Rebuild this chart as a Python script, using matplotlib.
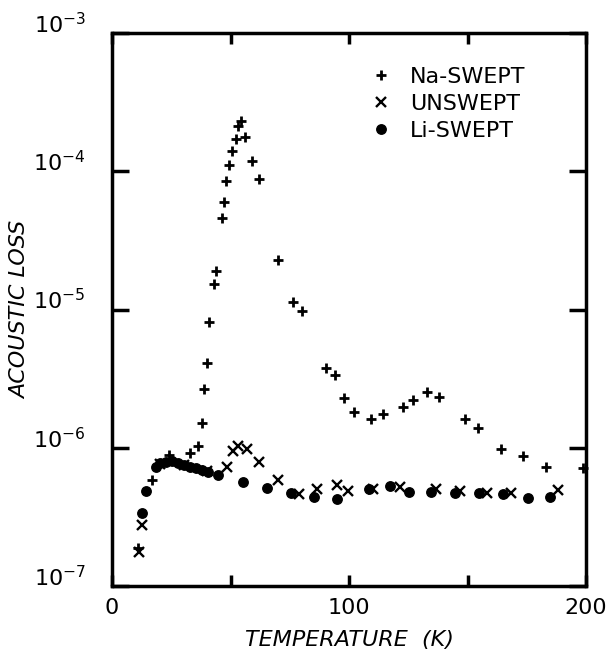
import matplotlib
matplotlib.use("Agg")
import matplotlib.pyplot as plt
from matplotlib.ticker import FixedLocator, NullLocator, FixedFormatter

plt.rcParams['font.family'] = ['DejaVu Sans']

# Na-SWEPT (+)
na_T = [11.0, 16.9, 24.1, 32.9, 36.3, 38.0, 38.8, 40.1, 40.9, 43.0, 43.9, 46.4, 47.3,
        48.1, 49.4, 50.6, 52.3, 53.2, 54.4, 56.1, 59.1, 62.0, 70.0, 76.4, 80.2, 90.3,
        94.1, 97.9, 102.1, 109.3, 114.3, 122.8, 127.0, 132.9, 138.0, 148.9, 154.4,
        164.1, 173.4, 183.1, 198.7]
na_L = [1.88e-7, 5.85e-7, 8.87e-7, 9.16e-7, 1.03e-6, 1.51e-6, 2.66e-6, 4.10e-6, 8.12e-6,
        1.53e-5, 1.90e-5, 4.59e-5, 5.99e-5, 8.50e-5, 1.11e-4, 1.40e-4, 1.71e-4, 2.12e-4,
        2.31e-4, 1.77e-4, 1.19e-4, 8.79e-5, 2.28e-5, 1.13e-5, 9.75e-6, 3.77e-6, 3.36e-6,
        2.29e-6, 1.81e-6, 1.61e-6, 1.75e-6, 1.97e-6, 2.22e-6, 2.53e-6, 2.33e-6, 1.61e-6,
        1.39e-6, 9.80e-7, 8.71e-7, 7.26e-7, 7.14e-7]

# UNSWEPT (x)
un_T = [11.4, 12.7, 20.3, 30.4, 40.1, 48.5, 51.1, 53.2, 57.0, 62.0, 70.0, 78.9, 86.5,
        94.9, 99.6, 110.1, 121.5, 136.7, 146.8, 158.2, 168.4, 188.2]
un_L = [1.76e-7, 2.76e-7, 7.6e-7, 7.5e-7, 6.79e-7, 7.26e-7, 9.48e-7, 1.03e-6, 9.80e-7,
        7.89e-7, 5.85e-7, 4.63e-7, 5.03e-7, 5.38e-7, 4.86e-7, 5.03e-7, 5.20e-7, 5.03e-7,
        4.86e-7, 4.71e-7, 4.71e-7, 4.94e-7]

# Li-SWEPT (dots)
li_T = [12.7, 14.3, 18.6, 20.3, 22.8, 25.3, 27.8, 30.4, 32.9, 35.4, 38.0, 40.5, 44.7,
        55.3, 65.4, 75.5, 85.2, 94.9, 108.4, 117.3, 125.3, 134.6, 144.7, 154.9, 165.0,
        175.5, 184.8]
li_L = [3.37e-7, 4.86e-7, 7.26e-7, 7.76e-7, 7.89e-7, 8.02e-7, 7.76e-7, 7.50e-7, 7.26e-7,
        7.14e-7, 6.91e-7, 6.68e-7, 6.35e-7, 5.65e-7, 5.11e-7, 4.71e-7, 4.40e-7, 4.26e-7,
        5.03e-7, 5.29e-7, 4.79e-7, 4.79e-7, 4.71e-7, 4.71e-7, 4.63e-7, 4.33e-7, 4.40e-7]

x_ticks = [0, 50, 100, 150, 200]
x_labels = ['0', '', '100', '', '200']
y_ticks = [1e-7, 1e-6, 1e-5, 1e-4, 1e-3]
y_labels = [r'$10^{-7}$', r'$10^{-6}$', r'$10^{-5}$', r'$10^{-4}$', r'$10^{-3}$']

fig = plt.figure(figsize=(6.07, 6.61), dpi=100)
ax = fig.add_axes([112/607, 1-586/661, (586-112)/607, (586-33)/661])

ax.plot(na_T, na_L, linestyle='none', marker='+', ms=7.5, mew=2.0, color='black',
        label='Na-SWEPT', clip_on=False, zorder=3)
ax.plot(un_T, un_L, linestyle='none', marker='x', ms=6.5, mew=1.7, color='black',
        label='UNSWEPT', zorder=3)
ax.plot(li_T, li_L, linestyle='none', marker='o', ms=6.8, color='black',
        label='Li-SWEPT', zorder=3)

ax.set_yscale('log')
ax.set_xlim(0, 200)
ax.set_ylim(1e-7, 1e-3)
ax.xaxis.set_major_locator(FixedLocator(x_ticks))
ax.xaxis.set_major_formatter(FixedFormatter(x_labels))
ax.yaxis.set_major_locator(FixedLocator(y_ticks))
ax.yaxis.set_major_formatter(FixedFormatter(y_labels))
ax.yaxis.set_minor_locator(NullLocator())
ax.xaxis.set_minor_locator(NullLocator())

for s in ax.spines.values():
    s.set_linewidth(2.5)
ax.tick_params(axis='x', which='major', direction='in', length=8, width=2.5,
               top=True, bottom=True, labelsize=16, pad=9)
ax.tick_params(axis='y', which='major', direction='in', length=12, width=2.5,
               left=True, right=True, labelsize=16, pad=19)
for lbl in ax.get_yticklabels():
    lbl.set_verticalalignment('baseline')

ax.set_xlabel('TEMPERATURE  (K)', fontsize=16, style='italic', labelpad=8)
ax.set_ylabel('ACOUSTIC LOSS', fontsize=16, style='italic')
ax.yaxis.set_label_coords(-0.172, 0.5)

leg = ax.legend(loc='upper left', bbox_to_anchor=(0.53, 0.955), frameon=False,
                fontsize=16, handlelength=0.8, handletextpad=0.9, labelspacing=0.32,
                borderaxespad=0)

fig.savefig('out.png', dpi=100)
